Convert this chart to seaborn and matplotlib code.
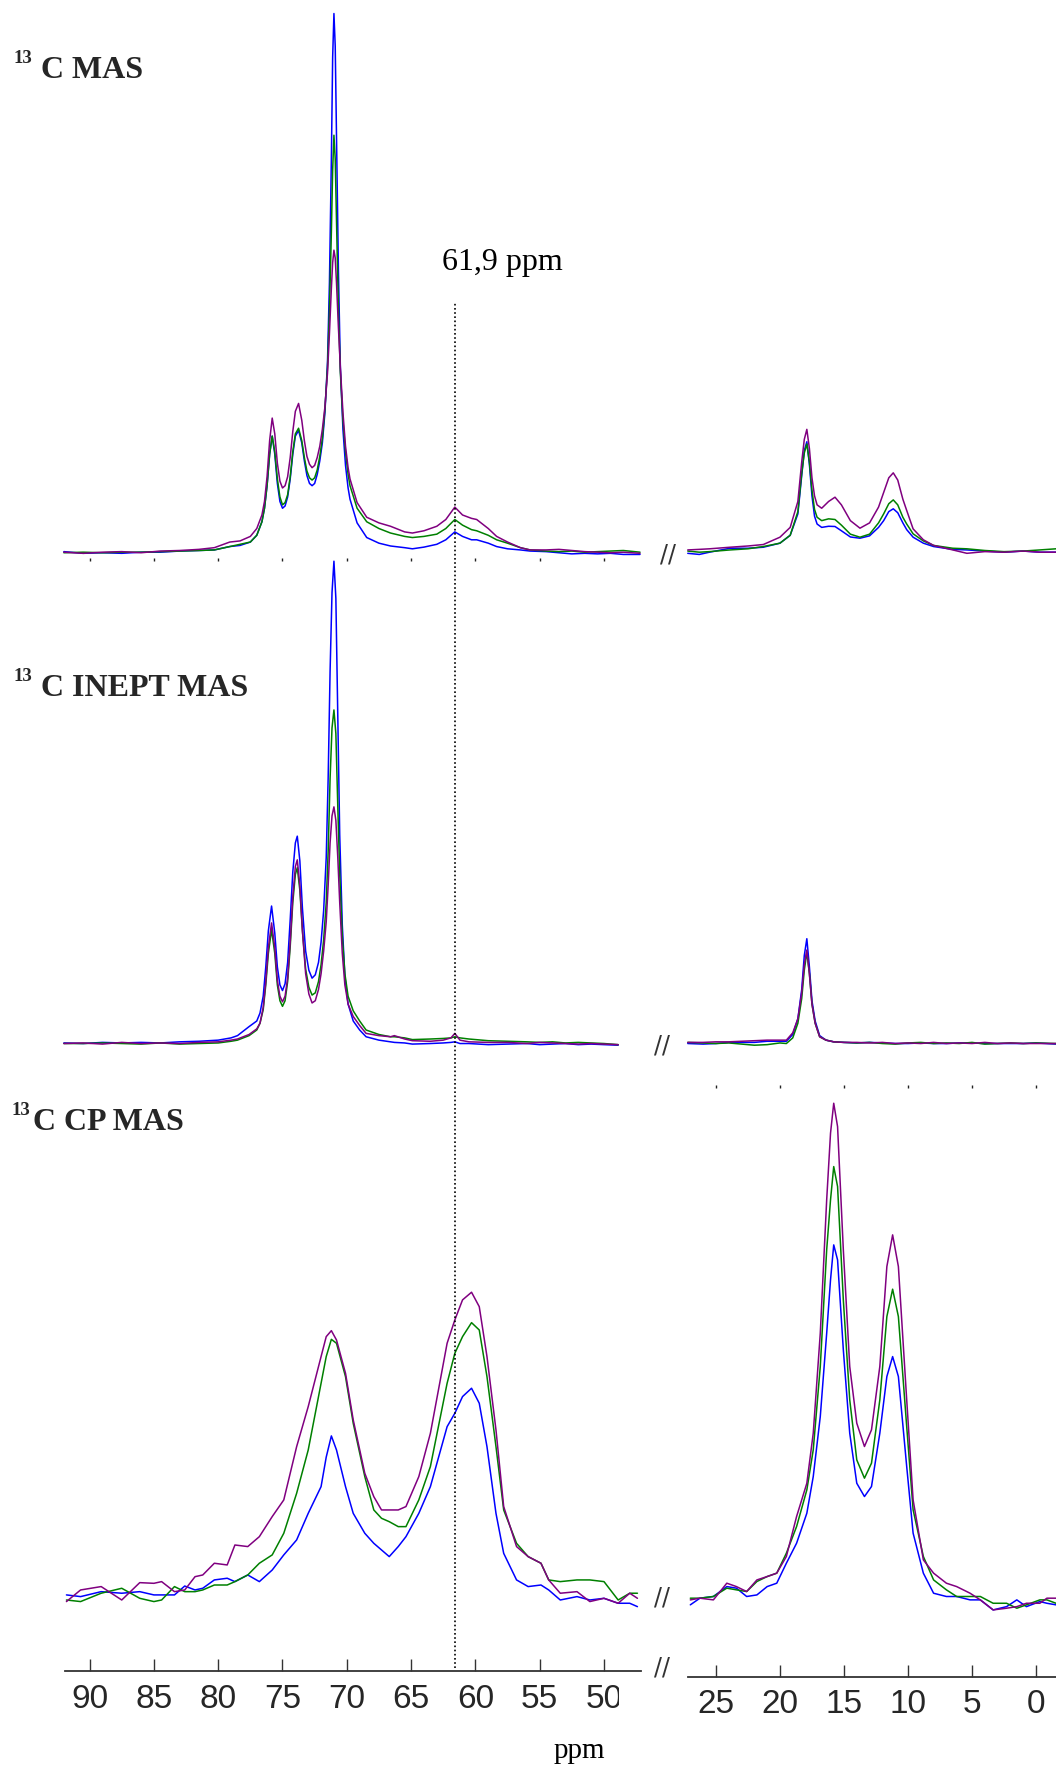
import matplotlib
matplotlib.use("Agg")
import numpy as np
import pandas as pd
import seaborn as sns
import matplotlib.pyplot as plt
from matplotlib import font_manager
from matplotlib.patches import Rectangle

sns.set_theme(style="white")

installed = {f.name for f in font_manager.fontManager.ttflist}
NARROW = "Liberation Sans Narrow" if "Liberation Sans Narrow" in installed else "Liberation Sans"
SERIF = "Liberation Serif"
plt.rcParams["font.family"] = ["DejaVu Sans"]

###############################################################################
### data (intensity in arbitrary units, baseline = 0)

series = ["blue", "green", "purple"]
colors = {"purple": "#800080", "green": "#008000", "blue": "#0000ff"}

# 13C MAS, 92 - 47 ppm
mas_left_ppm = [92.0, 90.5, 89.0, 87.5, 86.0, 84.5, 83.0, 81.5, 80.3, 79.1,
                78.3, 77.5, 77.0, 76.6, 76.4, 76.2, 76.0, 75.8, 75.6, 75.4,
                75.2, 75.0, 74.8, 74.6, 74.4, 74.2, 74.0, 73.75, 73.5, 73.3,
                73.1, 72.9, 72.7, 72.5, 72.3, 72.1, 71.9, 71.7, 71.5, 71.35,
                71.2, 71.1, 71.0, 70.9, 70.8, 70.65, 70.5, 70.3, 70.1, 69.9,
                69.75, 69.2, 68.45, 67.5, 66.6, 65.5, 64.9, 64.0, 63.0, 62.3,
                61.6, 61.0, 60.3, 59.9, 59.0, 58.35, 57.5, 56.5, 55.75, 54.5,
                53.5, 52.5, 51.5, 50.5, 49.5, 48.5, 47.2]
mas_left_purple = [1, 0, 1, 1.5, 0.5, 2, 2.5, 3.5, 5, 10,
                   11, 15, 22, 34, 46, 68, 100, 120, 106, 80,
                   64, 58, 60, 68, 85, 108, 126, 133, 118, 100,
                   86, 79, 76, 78, 85, 95, 110, 130, 160, 195,
                   235, 258, 269, 262, 240, 200, 165, 125, 95, 76,
                   66, 45, 32, 27, 24, 19, 18, 20, 24, 30,
                   41, 34, 31, 30, 22, 15, 10, 5, 3, 3,
                   3.5, 2.5, 1.5, 1, 0.5, 1, 0]
mas_left_green = [0.5, 1, 0.5, 1, 1, 1.5, 2, 2.5, 3, 6,
                  8, 10, 16, 28, 40, 60, 88, 104, 90, 66,
                  50, 43, 45, 52, 68, 90, 106, 111, 100, 85,
                  73, 67, 65, 67, 74, 86, 102, 128, 165, 215,
                  285, 340, 371, 350, 295, 215, 160, 118, 90, 70,
                  60, 40, 28, 22, 18, 15, 14, 15, 17, 22,
                  30, 25, 21, 20, 16, 12, 9, 5, 3, 2,
                  1.5, 2, 1, 1.5, 2, 2.5, 1]
mas_left_blue = [1.5, 0, 0.5, 0, 1, 1, 2, 2.5, 3, 6,
                 7, 10, 16, 28, 40, 60, 88, 104, 88, 62,
                 46, 40, 42, 50, 66, 88, 104, 109, 98, 82,
                 69, 62, 60, 62, 70, 82, 98, 125, 170, 240,
                 350, 440, 479, 450, 370, 250, 165, 110, 78, 58,
                 48, 27, 14, 9, 6.5, 5, 4, 5.5, 8, 12,
                 19, 15, 12, 12, 9, 6, 4, 3, 2, 1.5,
                 0.5, -0.5, 0, -0.5, 0, -1, -1]

# 13C MAS, 27 - -1.6 ppm
mas_right_ppm = [27.2, 26.3, 25.5, 23.9, 22.5, 21.3, 20.0, 19.2, 18.6, 18.3,
                 18.1, 17.9, 17.7, 17.5, 17.3, 17.1, 16.74, 16.2, 15.7, 15.2,
                 14.5, 13.75, 13.0, 12.3, 11.9, 11.5, 11.15, 10.8, 10.4, 10.1,
                 9.6, 8.8, 8.0, 6.5, 5.4, 4.0, 2.5, 1.0, -0.3, -1.56]
mas_right_purple = [2, 2.5, 3, 4.4, 5.5, 6.8, 13.3, 22, 45, 80,
                    100, 109, 92, 66, 50, 42, 39, 45, 48.8, 42,
                    28, 21.3, 26, 40, 53, 66, 70.4, 64, 47, 37,
                    20.7, 11, 6, 2, -1, 0.5, 0, 1, 0, 0]
mas_right_green = [1, 0, 0.5, 2, 3, 5, 8, 15, 36, 70,
                   88, 96, 80, 55, 38, 31, 28, 29.6, 29, 24,
                   16, 13.3, 16, 26, 34, 43, 46.4, 42, 31, 25,
                   16.3, 10, 6, 3.5, 3, 1.5, 0.5, 1, 2, 3]
mas_right_blue = [-1, -2, 0, 3.5, 3.5, 4.4, 8, 15, 34, 68,
                  90, 98, 78, 50, 32, 25, 22, 23, 22.8, 19,
                  13.5, 12.4, 14.5, 22, 28, 36, 38.5, 35, 26, 20,
                  13.3, 8, 5, 2.5, 2, 1, 0, 1, 0, 0]

# 13C INEPT MAS, 92 - 49 ppm
inept_left_ppm = [92.0, 90.5, 89.0, 87.5, 86.0, 84.5, 83.0, 81.5, 80.0, 79.0,
                  78.5, 77.6, 77.0, 76.75, 76.5, 76.3, 76.1, 75.85, 75.6, 75.4,
                  75.2, 75.0, 74.8, 74.6, 74.4, 74.2, 74.0, 73.85, 73.65, 73.45,
                  73.2, 72.95, 72.7, 72.45, 72.2, 72.0, 71.8, 71.6, 71.45, 71.3,
                  71.15, 71.0, 70.85, 70.7, 70.55, 70.35, 70.15, 69.9, 69.5, 69.0,
                  68.5, 67.5, 66.6, 66.3, 65.5, 64.9, 63.5, 62.5, 61.9, 61.6,
                  61.2, 60.5, 59.0, 57.5, 56.0, 55.0, 54.0, 53.0, 52.0, 51.0,
                  50.0, 48.9]
inept_left_purple = [0, 0.5, -0.5, 1, 0, 0.5, 0, 1, 1.5, 3,
                     4, 8, 13, 18, 32, 55, 85, 107, 85, 56,
                     42, 37, 42, 58, 90, 130, 157, 163, 140, 100,
                     62, 44, 36, 38, 48, 62, 82, 108, 140, 178,
                     202, 210, 198, 165, 125, 80, 52, 35, 24, 16,
                     9, 7, 6, 7, 4, 2.5, 2, 3, 5, 9,
                     3, 1.5, 1, 1, 0, 1, 0.5, 0, -0.5, 0,
                     -0.5, -1]
inept_left_green = [0, 0, 0.5, 0, -0.5, 0.5, -0.5, 0, 0.5, 2,
                    3, 7, 12, 18, 30, 52, 80, 101, 80, 52,
                    38, 33, 38, 55, 86, 125, 150, 156, 136, 100,
                    66, 50, 43, 45, 55, 70, 92, 125, 170, 235,
                    280, 296, 275, 210, 150, 95, 62, 42, 29, 20,
                    12, 8, 6, 6, 5, 3.5, 4, 4.5, 5, 6,
                    5, 4, 2.5, 2, 1.5, 1, 1.5, 0.5, 1, 0.5,
                    0, -1]
inept_left_blue = [0.5, 0, 1, 0.5, 1, 0.5, 1.5, 2, 3, 5,
                   7, 15, 20, 27, 42, 68, 100, 122, 98, 68,
                   52, 47, 53, 72, 110, 152, 178, 184, 162, 120,
                   82, 65, 58, 61, 72, 90, 118, 165, 235, 330,
                   400, 428, 395, 290, 185, 105, 60, 35, 20, 12,
                   6, 3, 1.5, 1, 0.5, -0.5, 0, 0.5, 1, 1.5,
                   0, 0, -1, -0.5, 0, -1, -0.5, 0, -1, -0.5,
                   -1, -1.5]

# 13C INEPT MAS, 27 - -1.6 ppm
inept_right_ppm = [27.2, 26.0, 25.0, 24.0, 23.0, 22.0, 21.0, 20.0, 19.5, 19.0,
                   18.6, 18.3, 18.1, 17.9, 17.7, 17.5, 17.25, 16.9, 16.4, 15.8,
                   15.0, 14.0, 13.0, 12.0, 11.0, 10.0, 9.0, 8.0, 7.0, 6.0,
                   5.0, 4.0, 3.0, 2.0, 1.0, 0.0, -1.56]
inept_right_purple = [1, 1, 1.5, 1.5, 2, 2.5, 3, 3, 3, 9.5,
                      22, 45, 70, 83, 62, 35, 18, 6, 3, 1.5,
                      1, 1, 0.5, 1, 0, 0.5, 0, 1, 0, 0.5,
                      0, 1, 0, 0.5, 0, 0, 0]
inept_right_green = [1, 0.5, 0, 0.5, -0.5, -1.5, -1, 0.5, 0, 5,
                     18, 40, 65, 81, 62, 35, 18, 6, 3, 1.5,
                     1, 0.5, 1, 0, -0.5, 0.5, 1, 0, 0.5, 0,
                     1, -0.5, 0, 0.5, 0, 0.5, 0]
inept_right_blue = [0, -0.5, 0, 1, 1, 1, 2, 2, 2, 8,
                    22, 48, 78, 93, 68, 38, 20, 7, 3, 1.5,
                    1, 0.5, 1, 0.5, 0, 0, 0.5, 0, 0, 0.5,
                    0.5, 0, 0, 0, 0, 0.5, -0.5]

# 13C CP MAS, 92 - 47 ppm
cp_left_ppm = [91.8, 90.7, 89.1, 87.5, 86.1, 85.0, 84.4, 83.4, 82.6, 81.8,
               81.2, 80.3, 79.3, 78.7, 77.7, 76.8, 75.8, 74.9, 73.9, 73.0,
               72.0, 71.6, 71.2, 70.8, 70.1, 69.5, 68.6, 67.9, 67.3, 66.7,
               66.0, 65.4, 64.4, 63.5, 62.2, 61.6, 61.0, 60.3, 59.7, 59.1,
               58.4, 57.8, 56.8, 55.9, 54.9, 54.3, 53.4, 52.1, 51.1, 50.0,
               48.9, 48.0, 47.4]
cp_left_purple = [-4.2, 6.1, 9.1, -2.8, 12.6, 12.0, 13.5, 4.6, 6.1, 17.9,
                  19.4, 29.8, 28.3, 46.0, 44.6, 53.4, 71.2, 86.0, 133.3, 168.8,
                  213.2, 230.9, 236.2, 227.9, 198.4, 157.0, 109.6, 88.9, 77.1, 77.1,
                  77.1, 80.1, 106.7, 145.1, 225.0, 245.7, 263.5, 270.3, 257.5, 213.2,
                  148.1, 80.1, 44.6, 35.7, 29.8, 15.0, 3.2, 4.6, -4.2, -1.3,
                  -5.7, 3.2, -1.3]
cp_left_green = [-2.8, -4.2, 3.2, 7.6, -1.3, -4.2, -2.8, 9.1, 4.6, 4.6,
                 6.1, 10.5, 10.5, 13.5, 19.4, 29.8, 37.2, 56.4, 91.9, 130.3,
                 189.5, 213.2, 228.5, 225.0, 195.4, 154.0, 106.7, 77.1, 69.7, 66.7,
                 62.3, 62.3, 86.0, 115.6, 189.5, 216.1, 230.9, 243.3, 236.8, 195.4,
                 133.3, 77.1, 47.5, 35.7, 29.8, 15.0, 13.5, 15.0, 15.0, 13.5,
                 -2.8, 3.2, 3.2]
cp_left_blue = [1.7, 0.2, 4.6, 3.2, 4.6, 1.7, 1.7, 1.7, 9.6, 6.1,
                7.6, 15.0, 16.5, 13.5, 19.4, 13.5, 23.8, 37.2, 50.5, 74.1,
                97.8, 124.0, 142.8, 130.3, 97.8, 74.1, 56.4, 47.5, 41.6, 35.7,
                44.6, 53.4, 74.1, 97.8, 151.0, 162.9, 177.7, 185.1, 171.8, 133.3,
                74.1, 38.6, 15.0, 9.1, 10.5, 6.1, -2.8, 0.2, -2.8, -1.3,
                -5.7, -5.7, -8.7]

# 13C CP MAS, 27 - -1.6 ppm
cp_right_ppm = [27.0, 26.25, 25.2, 24.15, 23.4, 22.6, 21.8, 21.0, 20.25, 19.5,
                18.7, 17.9, 17.4, 16.85, 16.35, 16.05, 15.8, 15.5, 15.05, 14.55,
                14.0, 13.4, 12.85, 12.2, 11.65, 11.2, 10.75, 10.1, 9.6, 8.8,
                8.0, 7.0, 6.2, 5.15, 4.35, 3.35, 2.3, 1.5, 0.75, -0.3,
                -0.85, -1.56]
cp_right_purple = [-2.7, -1.2, -2.7, 12.1, 9.1, 4.7, 15.0, 18.0, 21.0, 35.8,
                   71.3, 100.8, 145.2, 233.9, 352.3, 411.4, 438.0, 417.3, 307.9, 204.4,
                   154.1, 133.4, 148.2, 204.4, 293.1, 321.2, 293.1, 174.8, 86.0, 32.8,
                   21.0, 12.1, 9.1, 3.2, -2.7, -11.6, -10.1, -8.7, -5.7, -5.7,
                   -1.2, -1.2]
cp_right_green = [-1.2, -1.2, 0.3, 7.7, 6.2, 4.7, 13.6, 18.0, 21.0, 38.7,
                  62.4, 94.9, 130.4, 204.4, 307.9, 352.3, 381.8, 364.1, 263.5, 174.8,
                  121.5, 105.3, 118.6, 174.8, 248.7, 273.0, 248.7, 151.1, 77.2, 35.8,
                  15.0, 6.2, 0.3, 0.3, 0.3, -5.7, -5.7, -10.1, -7.1, -2.7,
                  -2.7, -5.7]
cp_right_blue = [-7.1, -1.2, 0.3, 9.1, 7.7, 0.3, 1.7, 9.1, 12.1, 29.8,
                 47.6, 74.2, 106.7, 160.0, 233.9, 281.3, 312.3, 299.0, 219.2, 145.2,
                 100.8, 89.0, 97.9, 145.2, 195.5, 213.2, 195.5, 115.6, 56.5, 21.0,
                 3.2, 0.3, 0.3, -2.7, -2.7, -11.6, -8.7, -2.7, -8.7, -4.2,
                 -5.7, -7.1]

left_ticks = [90, 85, 80, 75, 70, 65, 60, 55, 50]
right_ticks = [25, 20, 15, 10, 5, 0]
marker_ppm = 61.6
marker_label = "61,9 ppm"

###############################################################################
### layout helpers (positions in px of a 937 x 1568 canvas)

W, H = 937.0, 1568.0
LEFT_X = (57.7, 568.8)
LEFT_LIM = (91.91, 47.12)
RIGHT_X = (610.6, 937.0)
RIGHT_LIM = (27.17, -1.56)

fig = plt.figure(figsize=(10.56, 17.67), dpi=100)


def add_ax(xs, y_top, y_bot):
    ax = fig.add_axes([xs[0] / W, 1 - y_bot / H, (xs[1] - xs[0]) / W, (y_bot - y_top) / H])
    ax.patch.set_alpha(0)
    for s in ax.spines.values():
        s.set_visible(False)
    return ax


def spectrum(xs, xlim, y_top, y_bot, base, ppm, purple, green, blue):
    ax = add_ax(xs, y_top, y_bot)
    df = pd.DataFrame({"ppm": ppm * 3,
                       "I": blue + green + purple,
                       "sample": ["blue"] * len(ppm) + ["green"] * len(ppm) + ["purple"] * len(ppm)})
    sns.lineplot(data=df, x="ppm", y="I", hue="sample", hue_order=series, palette=colors,
                 estimator=None, legend=False, lw=1.1, ax=ax)
    for ln in ax.lines:
        ln.set_clip_on(False)
        ln.set_solid_joinstyle("round")
    ax.set_xlim(*xlim)
    ax.set_ylim(base - y_bot, base - y_top)
    ax.set_xlabel("")
    ax.set_ylabel("")
    ax.set_yticks([])
    ax.set_xticks([])
    return ax


def dot_ticks(ax, ticks):
    ax.set_xticks(ticks)
    ax.tick_params(axis="x", direction="out", length=1.8, width=1, color="#222222",
                   bottom=True, labelbottom=False)


# 13C MAS
ax1 = spectrum(LEFT_X, LEFT_LIM, 0, 495, 491, mas_left_ppm, mas_left_purple, mas_left_green, mas_left_blue)
dot_ticks(ax1, left_ticks)
ax2 = spectrum(RIGHT_X, RIGHT_LIM, 0, 495, 490, mas_right_ppm, mas_right_purple, mas_right_green, mas_right_blue)

# 13C INEPT MAS
ax3 = spectrum(LEFT_X, LEFT_LIM, 490, 963, 926, inept_left_ppm, inept_left_purple, inept_left_green, inept_left_blue)
ax4 = spectrum(RIGHT_X, RIGHT_LIM, 490, 963, 926, inept_right_ppm, inept_right_purple, inept_right_green, inept_right_blue)
dot_ticks(ax4, right_ticks)

# 13C CP MAS
ax5 = spectrum(LEFT_X, LEFT_LIM, 960, 1440, 1417, cp_left_ppm, cp_left_purple, cp_left_green, cp_left_blue)
ax6 = spectrum(RIGHT_X, RIGHT_LIM, 960, 1440, 1417, cp_right_ppm, cp_right_purple, cp_right_green, cp_right_blue)

# ppm axes
for xs, xlim, y_line, ticks in [(LEFT_X, LEFT_LIM, 1483, left_ticks), (RIGHT_X, RIGHT_LIM, 1488, right_ticks)]:
    axx = add_ax(xs, y_line - 10, y_line)
    axx.spines["bottom"].set_visible(True)
    axx.spines["bottom"].set_color("#333333")
    axx.spines["bottom"].set_linewidth(1.3)
    axx.set_xlim(*xlim)
    axx.set_yticks([])
    axx.set_xticks(ticks)
    axx.set_xticklabels([str(t) for t in ticks], family=NARROW, fontsize=24)
    axx.tick_params(axis="x", direction="in", length=9, width=1, color="#333333",
                    bottom=True, pad=9)

# the last left label is partly hidden in the original
fig.add_artist(Rectangle((549.5 / W, 1 - 1528 / H), 22 / W, 38 / H, transform=fig.transFigure,
                         facecolor="white", edgecolor="none", zorder=10))

# dotted marker line
axm = add_ax(LEFT_X, 268, 1480)
axm.set_xlim(*LEFT_LIM)
axm.set_xticks([])
axm.set_yticks([])
axm.axvline(marker_ppm, color="black", ls=(0, (1, 1.5)), lw=1.2)


def ftext(x, y, s, **kw):
    fig.text(x / W, 1 - y / H, s, **kw)


ftext(446, 240, marker_label, family=SERIF, fontsize=23, ha="center", va="baseline", color="black")
ftext(514, 1560, "ppm", family=SERIF, fontsize=21, ha="center", va="baseline", color="black")

# panel titles
for x13, y13, xc, yc, s in [(11.8, 56, 36, 69.5, "C MAS"),
                            (11.8, 604, 36, 617.5, "C INEPT MAS"),
                            (10.5, 989, 29, 1003, "C CP MAS")]:
    ftext(x13, y13, "13", family=SERIF, fontsize=13.5, weight="bold", va="baseline")
    ftext(xc, yc, s, family=SERIF, fontsize=23, weight="bold", va="baseline")

# axis break marks
for x, y in [(593, 492), (587, 928), (587, 1418), (587, 1480)]:
    ftext(x, y, "//", fontsize=17, ha="center", va="center", color="#333333", zorder=11)

fig.savefig("out.png", dpi=100)
